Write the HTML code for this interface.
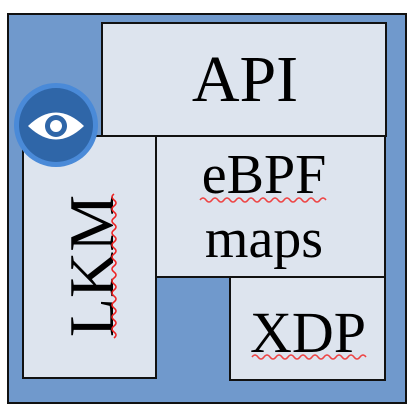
<!DOCTYPE html>
<html><head><style>html,body{margin:0;padding:0;background:#fff;width:418px;height:420px;overflow:hidden}</style></head>
<body>
<svg width="418" height="420" viewBox="0 0 418 420" xmlns="http://www.w3.org/2000/svg" font-family="'Liberation Serif', serif">
<rect x="8" y="14" width="398" height="389" fill="#7099cc" stroke="#111" stroke-width="2"/>
<rect x="102" y="23" width="284" height="113" fill="#dde4ee" stroke="#111" stroke-width="2"/>
<rect x="23" y="136" width="133" height="242" fill="#dde4ee" stroke="#111" stroke-width="2"/>
<rect x="156" y="136" width="229" height="141" fill="#dde4ee" stroke="#111" stroke-width="2"/>
<rect x="230" y="277" width="155" height="103" fill="#dde4ee" stroke="#111" stroke-width="2"/>
<text x="245" y="101" font-size="66" text-anchor="middle">API</text>
<text x="264" y="193" font-size="56" text-anchor="middle">eBPF</text>
<text x="264" y="257" font-size="56" text-anchor="middle">maps</text>
<text x="308" y="352" font-size="58" text-anchor="middle">XDP</text>
<text transform="translate(113,266) rotate(-90)" font-size="64" text-anchor="middle">LKM</text>
<path d="M200 200 q3 -4 6 0 t6 0 t6 0 t6 0 t6 0 t6 0 t6 0 t6 0 t6 0 t6 0 t6 0 t6 0 t6 0 t6 0 t6 0 t6 0 t6 0 t6 0 t6 0 t6 0 t6 0" fill="none" stroke="#e44" stroke-width="1.5"/>
<path d="M252 357 q3 -4 6 0 t6 0 t6 0 t6 0 t6 0 t6 0 t6 0 t6 0 t6 0 t6 0 t6 0 t6 0 t6 0 t6 0 t6 0 t6 0 t6 0 t6 0 t6 0" fill="none" stroke="#e44" stroke-width="1.5"/>
<path d="M114 194 q-4 3 0 6 t0 6 t0 6 t0 6 t0 6 t0 6 t0 6 t0 6 t0 6 t0 6 t0 6 t0 6 t0 6 t0 6 t0 6 t0 6 t0 6 t0 6 t0 6 t0 6 t0 6 t0 6 t0 6 t0 6" fill="none" stroke="#e22" stroke-width="1.5"/>
<circle cx="56" cy="125" r="42" fill="#4a8ad8"/>
<circle cx="56" cy="125" r="37" fill="#2f66a8"/>
<path d="M28 126 Q56 99 84 126 Q56 153 28 126 Z" fill="#fff"/>
<circle cx="56" cy="126" r="11" fill="#2f66a8"/>
<circle cx="56" cy="126" r="6" fill="#fff"/>
</svg>
</body></html>
